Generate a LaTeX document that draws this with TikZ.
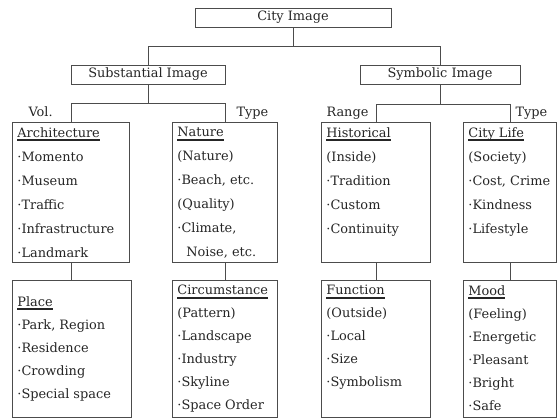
\documentclass[tikz,border=0pt]{standalone}
\usepackage{fontspec}
\setmainfont{DejaVu Serif}
\usetikzlibrary{positioning}
\newsavebox{\ttlbox}
\newcommand{\ttl}[1]{\leavevmode\sbox{\ttlbox}{#1}\rlap{\rule[-3.8pt]{\wd\ttlbox}{1.8pt}}\usebox{\ttlbox}}
\newcommand{\cell}[4][t]{\begin{minipage}[t][#3][#1]{#2}#4\end{minipage}}

\begin{document}
\begin{tikzpicture}[x=1pt, y=-1pt,
  every node/.style={font=\fontsize{12.9}{23.5}\selectfont, text=black!85},
  headbox/.style={draw=black!70, line width=0.8pt, inner sep=0pt, minimum height=19pt},
  itembox/.style={draw=black!70, line width=0.8pt, anchor=north west, inner xsep=5pt, inner ysep=5pt},
  upper/.style={itembox, font=\fontsize{12.9}{24}\selectfont},
  lower/.style={itembox, font=\fontsize{12.9}{23}\selectfont},
  tag/.style={anchor=base west},
  link/.style={draw=black!70, line width=0.8pt}]
  \useasboundingbox (0,0) rectangle (557,420);
  \fill[white] (0,0) rectangle (557,420);
  % Top levels
  \node[headbox, minimum width=196pt] (city) at (293,17.5) {City Image};
  \node[headbox, minimum width=154pt] (subst) at (148,74.5) {Substantial Image};
  \node[headbox, minimum width=160pt] (symb) at (440,74.5) {Symbolic Image};
  % Upper boxes
  \node[upper] (arch) at (12,122) {\cell{107pt}{130pt}{\ttl{Architecture}\\
    ·Momento\\·Museum\\·Traffic\\·Infrastructure\\·Landmark}};
  \node[upper] (nature) at (172,122) {\cell{95pt}{130pt}{\ttl{Nature}\\
    (Nature)\\·Beach,~etc.\\(Quality)\\·Climate,\\\hspace*{9pt}Noise,~etc.}};
  \node[upper] (hist) at (321,122) {\cell{99pt}{130pt}{\ttl{Historical}\\
    (Inside)\\·Tradition\\·Custom\\·Continuity}};
  \node[upper] (life) at (463,122) {\cell{83pt}{130pt}{\ttl{City~Life}\\
    (Society)\\·Cost,~Crime\\·Kindness\\·Lifestyle}};
  % Lower boxes
  \node[lower] (place) at (12,280) {\cell[c]{109pt}{127pt}{\ttl{Place}\\
    ·Park,~Region\\·Residence\\·Crowding\\·Special~space}};
  \node[lower] (circ) at (172,280) {\cell{95pt}{127pt}{\ttl{Circumstance}\\
    (Pattern)\\·Landscape\\·Industry\\·Skyline\\·Space~Order}};
  \node[lower] (func) at (321,280) {\cell{99pt}{127pt}{\ttl{Function}\\
    (Outside)\\·Local\\·Size\\·Symbolism}};
  \node[lower] (mood) at (463,280) {\cell{83pt}{127pt}{\ttl{Mood}\\
    (Feeling)\\·Energetic\\·Pleasant\\·Bright\\·Safe}};
  % Branch labels
  \node[tag] (vol) at (25,117) {Vol.};
  \node[tag] (ltype) at (233,117) {Type};
  \node[tag] (range) at (323,117) {Range};
  \node[tag] (rtype) at (512,117) {Type};
  % Connectors
  \draw[link] (city.south) -- ++(0,19) coordinate (bar1);
  \draw[link] (subst.north) |- (bar1) -| (symb.north);
  \draw[link] (subst.south) -- ++(0,19) coordinate (bar2);
  \draw[link] (arch.north) |- (bar2) -| (nature.north);
  \draw[link] (symb.south) -- ++(0,20) coordinate (bar3);
  \draw[link] (hist.north) |- (bar3) -| (life.north);
  \draw[link] (arch.south) -- (arch.south |- place.north);
  \draw[link] (nature.south) -- (nature.south |- circ.north);
  \draw[link] (hist.south) -- (hist.south |- func.north);
  \draw[link] (life.south) -- (life.south |- mood.north);
\end{tikzpicture}
\end{document}
